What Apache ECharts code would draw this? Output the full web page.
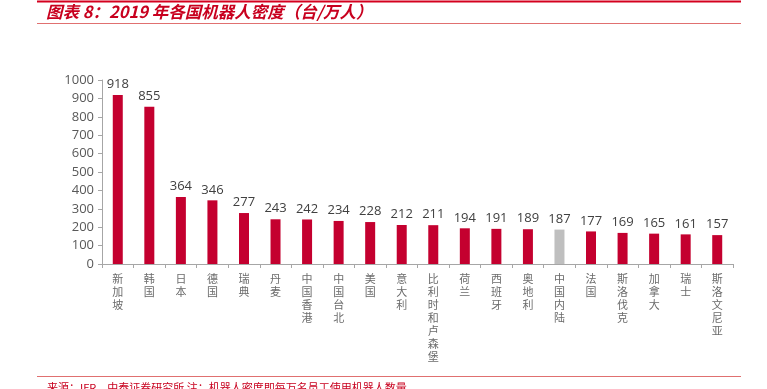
<!DOCTYPE html>
<html><head><meta charset="utf-8">
<script src="https://cdn.jsdelivr.net/npm/echarts@6/dist/echarts.min.js"></script>
<style>html,body{margin:0;padding:0;background:#fff;}#c{width:767px;height:389px;}</style>
</head><body><div id="c"></div>
<script>
const categories = ['新加坡','韩国','日本','德国','瑞典','丹麦','中国香港','中国台北','美国','意大利','比利时和卢森堡','荷兰','西班牙','奥地利','中国内陆','法国','斯洛伐克','加拿大','瑞士','斯洛文尼亚'];
const values = [918,855,364,346,277,243,242,234,228,212,211,194,191,189,187,177,169,165,161,157];
const highlight = '中国内陆';
const yTicks = [0,100,200,300,400,500,600,700,800,900,1000];
const titleText = '图表 8：2019 年各国机器人密度（台/万人）';
const sourceText = '来源：IFR，中泰证券研究所 注：机器人密度即每万名员工使用机器人数量';

const chart = echarts.init(document.getElementById('c'), null, {renderer:'canvas'});
chart.setOption({
  animation:false,
  backgroundColor:'#fff',
  graphic:[
    {type:'line', shape:{x1:37,y1:1.5,x2:741,y2:1.5}, style:{stroke:'#d4001e',lineWidth:2}},
    {type:'line', shape:{x1:37,y1:23.5,x2:741,y2:23.5}, style:{stroke:'#e07070',lineWidth:1}},
    {type:'text', left:46, top:3, style:{text:titleText, fill:'#c8001e', font:'italic bold 16.5px "Noto Sans CJK SC", sans-serif'}},
    {type:'line', shape:{x1:37,y1:376.5,x2:741,y2:376.5}, style:{stroke:'#e07070',lineWidth:1}},
    {type:'text', left:47, top:382, style:{text:sourceText, fill:'#c8001e', font:'11px "Noto Sans CJK SC", sans-serif'}}
  ],
  grid:{left:102, right:34, top:80, bottom:125},
  xAxis:{
    type:'category', data:categories,
    axisLine:{lineStyle:{color:'#a6a6a6'}},
    axisTick:{show:true, alignWithLabel:false, length:4, lineStyle:{color:'#a6a6a6'}},
    axisLabel:{interval:0, margin:8, color:'#6b6b6b', fontSize:11, lineHeight:13,
      fontFamily:'"Noto Sans CJK SC", sans-serif', verticalAlign:'top',
      formatter:v=>v.split('').join('\n')}
  },
  yAxis:{
    type:'value', min:0, max:1000, interval:100,
    axisLine:{show:true, lineStyle:{color:'#a6a6a6'}},
    axisTick:{show:true, length:4, lineStyle:{color:'#a6a6a6'}},
    splitLine:{show:false},
    axisLabel:{color:'#595959', fontSize:13, margin:8, fontFamily:'"Open Sans", sans-serif',
      formatter:v=>yTicks.includes(v)?String(v):''}
  },
  series:[{
    type:'bar', barWidth:10,
    data:values.map((v,i)=>({value:v, itemStyle:{color: categories[i]===highlight?'#bfbfbf':'#c4002f'}})),
    label:{show:true, position:'top', distance:4, color:'#404040', fontSize:13, fontFamily:'"Open Sans", sans-serif'}
  }]
});
</script></body></html>
